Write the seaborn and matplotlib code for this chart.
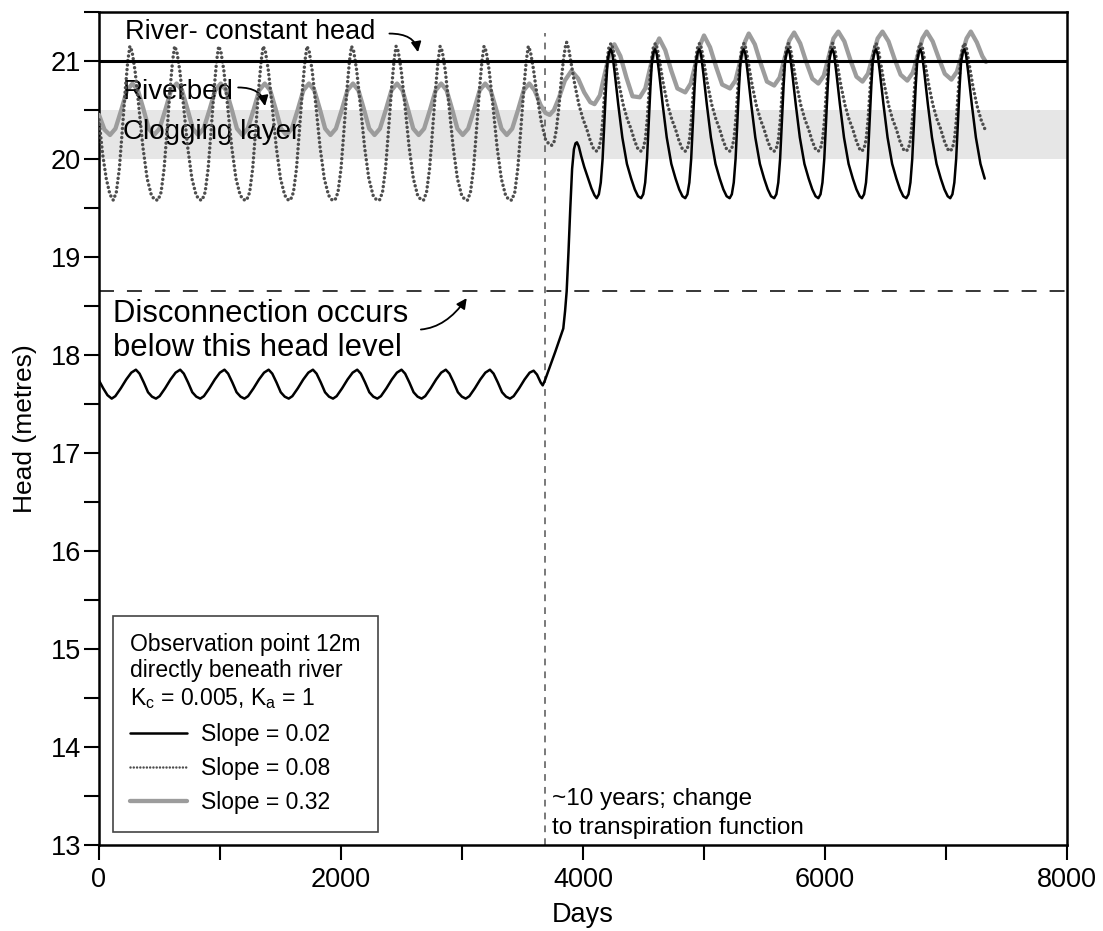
import matplotlib
matplotlib.use("Agg")
import matplotlib.pyplot as plt
import seaborn as sns
from matplotlib.lines import Line2D
from matplotlib.ticker import MultipleLocator

sns.set_style("ticks")
plt.rcParams['font.family'] = ['Liberation Sans', 'DejaVu Sans']
plt.rcParams['mathtext.default'] = 'regular'
for k in ['text.color', 'axes.labelcolor', 'xtick.color', 'ytick.color', 'axes.edgecolor']:
    plt.rcParams[k] = 'black'

# ---------------- data ----------------
river_head = 21.0
disconnect_head = 18.65
clog_bottom, clog_top = 20.0, 20.5
switch_day = 3686

# Slope = 0.02 (black)
black_days = [
    0, 35, 70,
    105, 135, 180, 225, 267, 305, 335, 370, 405, 438,
    471, 501, 546, 591, 633, 671, 701, 736, 771, 804,
    837, 867, 912, 957, 999, 1037, 1067, 1102, 1137, 1170,
    1202, 1232, 1277, 1322, 1364, 1402, 1432, 1467, 1502, 1535,
    1568, 1598, 1643, 1688, 1730, 1768, 1798, 1833, 1868, 1901,
    1934, 1964, 2009, 2054, 2096, 2134, 2164, 2199, 2234, 2267,
    2300, 2330, 2375, 2420, 2462, 2500, 2530, 2565, 2600, 2633,
    2666, 2696, 2741, 2786, 2828, 2866, 2896, 2931, 2966, 2999,
    3031, 3061, 3106, 3151, 3193, 3231, 3261, 3296, 3331, 3364,
    3397, 3427, 3472, 3517, 3559, 3592,
    3620, 3650, 3667, 3685, 3720, 3770, 3837, 3852, 3865, 3880, 3895, 3910, 3925, 3938,
    3950, 3965, 3985, 4010, 4040, 4070, 4095,
    4113, 4131, 4147, 4162, 4177, 4191, 4203, 4217, 4229, 4243, 4262, 4291, 4325, 4363, 4398, 4428, 4455,
    4480, 4498, 4514, 4529, 4544, 4558, 4570, 4584, 4596, 4610, 4629, 4658, 4692, 4730, 4765, 4795, 4822,
    4845, 4863, 4879, 4894, 4909, 4923, 4935, 4949, 4961, 4975, 4994, 5023, 5057, 5095, 5130, 5160, 5187,
    5212, 5230, 5246, 5261, 5276, 5290, 5302, 5316, 5328, 5342, 5361, 5390, 5424, 5462, 5497, 5527, 5554,
    5580, 5598, 5614, 5629, 5644, 5658, 5670, 5684, 5696, 5710, 5729, 5758, 5792, 5830, 5865, 5895, 5922,
    5945, 5963, 5979, 5994, 6009, 6023, 6035, 6049, 6061, 6075, 6094, 6123, 6157, 6195, 6230, 6260, 6287,
    6305, 6323, 6339, 6354, 6369, 6383, 6395, 6409, 6421, 6435, 6454, 6483, 6517, 6555, 6590, 6620, 6647,
    6672, 6690, 6706, 6721, 6736, 6750, 6762, 6776, 6788, 6802, 6821, 6850, 6884, 6922, 6957, 6987, 7014,
    7035, 7053, 7069, 7084, 7099, 7113, 7125, 7139, 7151, 7165, 7184, 7213, 7247, 7285, 7320,
]
black_head = [
    17.74, 17.66, 17.59,
    17.555, 17.58, 17.66, 17.75, 17.82, 17.85, 17.81, 17.72, 17.62, 17.575,
    17.555, 17.58, 17.66, 17.75, 17.82, 17.85, 17.81, 17.72, 17.62, 17.575,
    17.555, 17.58, 17.66, 17.75, 17.82, 17.85, 17.81, 17.72, 17.62, 17.575,
    17.555, 17.58, 17.66, 17.75, 17.82, 17.85, 17.81, 17.72, 17.62, 17.575,
    17.555, 17.58, 17.66, 17.75, 17.82, 17.85, 17.81, 17.72, 17.62, 17.575,
    17.555, 17.58, 17.66, 17.75, 17.82, 17.85, 17.81, 17.72, 17.62, 17.575,
    17.555, 17.58, 17.66, 17.75, 17.82, 17.85, 17.81, 17.72, 17.62, 17.575,
    17.555, 17.58, 17.66, 17.75, 17.82, 17.85, 17.81, 17.72, 17.62, 17.575,
    17.555, 17.58, 17.66, 17.75, 17.82, 17.85, 17.81, 17.72, 17.62, 17.575,
    17.555, 17.58, 17.66, 17.75, 17.82, 17.84,
    17.80, 17.72, 17.69, 17.74, 17.86, 18.03, 18.27, 18.45, 18.65, 19.05, 19.50, 19.90, 20.10, 20.16,
    20.17, 20.13, 20.03, 19.92, 19.81, 19.70, 19.63,
    19.60, 19.64, 19.76, 20.00, 20.40, 20.75, 21.00, 21.09, 21.12, 21.07, 20.88, 20.56, 20.22, 19.95, 19.80, 19.69, 19.62,
    19.60, 19.64, 19.76, 20.00, 20.40, 20.75, 21.00, 21.09, 21.12, 21.07, 20.88, 20.56, 20.22, 19.95, 19.80, 19.69, 19.62,
    19.60, 19.64, 19.76, 20.00, 20.40, 20.75, 21.00, 21.09, 21.12, 21.07, 20.88, 20.56, 20.22, 19.95, 19.80, 19.69, 19.62,
    19.60, 19.64, 19.76, 20.00, 20.40, 20.75, 21.00, 21.09, 21.12, 21.07, 20.88, 20.56, 20.22, 19.95, 19.80, 19.69, 19.62,
    19.60, 19.64, 19.76, 20.00, 20.40, 20.75, 21.00, 21.09, 21.12, 21.07, 20.88, 20.56, 20.22, 19.95, 19.80, 19.69, 19.62,
    19.60, 19.64, 19.76, 20.00, 20.40, 20.75, 21.00, 21.09, 21.12, 21.07, 20.88, 20.56, 20.22, 19.95, 19.80, 19.69, 19.62,
    19.60, 19.64, 19.76, 20.00, 20.40, 20.75, 21.00, 21.09, 21.12, 21.07, 20.88, 20.56, 20.22, 19.95, 19.80, 19.69, 19.62,
    19.60, 19.64, 19.76, 20.00, 20.40, 20.75, 21.00, 21.09, 21.12, 21.07, 20.88, 20.56, 20.22, 19.95, 19.80, 19.69, 19.62,
    19.60, 19.64, 19.76, 20.00, 20.40, 20.75, 21.00, 21.09, 21.12, 21.07, 20.88, 20.56, 20.22, 19.95, 19.80,
]

# Slope = 0.08 (dotted)
dot_days = [
    0, 30, 60, 90,
    118, 143, 168, 193, 218, 238, 255, 273, 298, 328, 363, 398, 433, 460,
    488, 513, 538, 563, 588, 608, 625, 643, 668, 698, 733, 768, 803, 830,
    852, 877, 902, 927, 952, 972, 989, 1007, 1032, 1062, 1097, 1132, 1167, 1194,
    1220, 1245, 1270, 1295, 1320, 1340, 1357, 1375, 1400, 1430, 1465, 1500, 1535, 1562,
    1582, 1607, 1632, 1657, 1682, 1702, 1719, 1737, 1762, 1792, 1827, 1862, 1897, 1924,
    1950, 1975, 2000, 2025, 2050, 2070, 2087, 2105, 2130, 2160, 2195, 2230, 2265, 2292,
    2318, 2343, 2368, 2393, 2418, 2438, 2455, 2473, 2498, 2528, 2563, 2598, 2633, 2660,
    2682, 2707, 2732, 2757, 2782, 2802, 2819, 2837, 2862, 2892, 2927, 2962, 2997, 3024,
    3045, 3070, 3095, 3120, 3145, 3165, 3182, 3200, 3225, 3255, 3290, 3325, 3360, 3387,
    3411, 3436, 3461, 3486, 3511, 3531, 3548,
    3565, 3590, 3620, 3655, 3690, 3720, 3741, 3760, 3780, 3800, 3820, 3840, 3855, 3865,
    3881, 3902, 3932, 3967, 4002, 4030, 4062, 4089,
    4113, 4131, 4148, 4165, 4181, 4197, 4213, 4231, 4247, 4268, 4298, 4333, 4368, 4396, 4428, 4455,
    4480, 4498, 4515, 4532, 4548, 4564, 4580, 4598, 4614, 4635, 4665, 4700, 4735, 4763, 4795, 4822,
    4845, 4863, 4880, 4897, 4913, 4929, 4945, 4963, 4979, 5000, 5030, 5065, 5100, 5128, 5160, 5187,
    5212, 5230, 5247, 5264, 5280, 5296, 5312, 5330, 5346, 5367, 5397, 5432, 5467, 5495, 5527, 5554,
    5580, 5598, 5615, 5632, 5648, 5664, 5680, 5698, 5714, 5735, 5765, 5800, 5835, 5863, 5895, 5922,
    5945, 5963, 5980, 5997, 6013, 6029, 6045, 6063, 6079, 6100, 6130, 6165, 6200, 6228, 6260, 6287,
    6305, 6323, 6340, 6357, 6373, 6389, 6405, 6423, 6439, 6460, 6490, 6525, 6560, 6588, 6620, 6647,
    6672, 6690, 6707, 6724, 6740, 6756, 6772, 6790, 6806, 6827, 6857, 6892, 6927, 6955, 6987, 7014,
    7035, 7053, 7070, 7087, 7103, 7119, 7135, 7153, 7169, 7190, 7220, 7255, 7290, 7320,
]
dot_head = [
    20.40, 20.05, 19.80, 19.64,
    19.58, 19.66, 19.90, 20.30, 20.72, 21.00, 21.15, 21.10, 20.90, 20.55, 20.12, 19.80, 19.63, 19.585,
    19.58, 19.66, 19.90, 20.30, 20.72, 21.00, 21.15, 21.10, 20.90, 20.55, 20.12, 19.80, 19.63, 19.585,
    19.58, 19.66, 19.90, 20.30, 20.72, 21.00, 21.15, 21.10, 20.90, 20.55, 20.12, 19.80, 19.63, 19.585,
    19.58, 19.66, 19.90, 20.30, 20.72, 21.00, 21.15, 21.10, 20.90, 20.55, 20.12, 19.80, 19.63, 19.585,
    19.58, 19.66, 19.90, 20.30, 20.72, 21.00, 21.15, 21.10, 20.90, 20.55, 20.12, 19.80, 19.63, 19.585,
    19.58, 19.66, 19.90, 20.30, 20.72, 21.00, 21.15, 21.10, 20.90, 20.55, 20.12, 19.80, 19.63, 19.585,
    19.58, 19.66, 19.90, 20.30, 20.72, 21.00, 21.15, 21.10, 20.90, 20.55, 20.12, 19.80, 19.63, 19.585,
    19.58, 19.66, 19.90, 20.30, 20.72, 21.00, 21.15, 21.10, 20.90, 20.55, 20.12, 19.80, 19.63, 19.585,
    19.58, 19.66, 19.90, 20.30, 20.72, 21.00, 21.15, 21.10, 20.90, 20.55, 20.12, 19.80, 19.63, 19.585,
    19.58, 19.66, 19.90, 20.30, 20.72, 21.00, 21.15,
    21.10, 20.92, 20.65, 20.38, 20.20, 20.15, 20.14, 20.17, 20.30, 20.52, 20.80, 21.03, 21.15, 21.19,
    21.13, 20.98, 20.76, 20.55, 20.40, 20.31, 20.18, 20.10,
    20.08, 20.11, 20.20, 20.42, 20.72, 20.98, 21.13, 21.18, 21.13, 20.98, 20.76, 20.55, 20.40, 20.31, 20.18, 20.10,
    20.08, 20.11, 20.20, 20.42, 20.72, 20.98, 21.13, 21.18, 21.13, 20.98, 20.76, 20.55, 20.40, 20.31, 20.18, 20.10,
    20.08, 20.11, 20.20, 20.42, 20.72, 20.98, 21.13, 21.18, 21.13, 20.98, 20.76, 20.55, 20.40, 20.31, 20.18, 20.10,
    20.08, 20.11, 20.20, 20.42, 20.72, 20.98, 21.13, 21.18, 21.13, 20.98, 20.76, 20.55, 20.40, 20.31, 20.18, 20.10,
    20.08, 20.11, 20.20, 20.42, 20.72, 20.98, 21.13, 21.18, 21.13, 20.98, 20.76, 20.55, 20.40, 20.31, 20.18, 20.10,
    20.08, 20.11, 20.20, 20.42, 20.72, 20.98, 21.13, 21.18, 21.13, 20.98, 20.76, 20.55, 20.40, 20.31, 20.18, 20.10,
    20.08, 20.11, 20.20, 20.42, 20.72, 20.98, 21.13, 21.18, 21.13, 20.98, 20.76, 20.55, 20.40, 20.31, 20.18, 20.10,
    20.08, 20.11, 20.20, 20.42, 20.72, 20.98, 21.13, 21.18, 21.13, 20.98, 20.76, 20.55, 20.40, 20.31, 20.18, 20.10,
    20.08, 20.11, 20.20, 20.42, 20.72, 20.98, 21.13, 21.18, 21.13, 20.98, 20.76, 20.55, 20.40, 20.31,
]

# Slope = 0.32 (grey)
gray_days = [
    0, 45,
    91, 136, 184, 231, 277, 322, 367, 411,
    455, 500, 548, 595, 641, 686, 731, 775,
    820, 865, 913, 960, 1006, 1051, 1096, 1140,
    1184, 1229, 1277, 1324, 1370, 1415, 1460, 1504,
    1549, 1594, 1642, 1689, 1735, 1780, 1825, 1869,
    1913, 1958, 2006, 2053, 2099, 2144, 2189, 2233,
    2277, 2322, 2370, 2417, 2463, 2508, 2553, 2597,
    2642, 2687, 2735, 2782, 2828, 2873, 2918, 2962,
    3006, 3051, 3099, 3146, 3192, 3237, 3282, 3326,
    3370, 3415, 3463, 3510, 3556,
    3600, 3650, 3690, 3725, 3760, 3800, 3850, 3905, 3960, 4010, 4060,
    4095, 4140, 4180, 4220, 4259, 4309, 4359, 4409,
    4470, 4515, 4555, 4595, 4630, 4680, 4730, 4780,
    4845, 4890, 4930, 4970, 5000, 5050, 5100, 5150,
    5215, 5260, 5300, 5340, 5370, 5420, 5470, 5520,
    5580, 5625, 5665, 5705, 5745, 5795, 5845, 5895,
    5945, 5990, 6030, 6070, 6110, 6160, 6210, 6260,
    6310, 6355, 6395, 6435, 6475, 6525, 6575, 6625,
    6680, 6725, 6765, 6805, 6840, 6890, 6940, 6990,
    7045, 7090, 7130, 7170, 7205, 7255, 7300, 7330,
]
gray_head = [
    20.45, 20.30,
    20.245, 20.31, 20.50, 20.70, 20.77, 20.70, 20.51, 20.31,
    20.245, 20.31, 20.50, 20.70, 20.77, 20.70, 20.51, 20.31,
    20.245, 20.31, 20.50, 20.70, 20.77, 20.70, 20.51, 20.31,
    20.245, 20.31, 20.50, 20.70, 20.77, 20.70, 20.51, 20.31,
    20.245, 20.31, 20.50, 20.70, 20.77, 20.70, 20.51, 20.31,
    20.245, 20.31, 20.50, 20.70, 20.77, 20.70, 20.51, 20.31,
    20.245, 20.31, 20.50, 20.70, 20.77, 20.70, 20.51, 20.31,
    20.245, 20.31, 20.50, 20.70, 20.77, 20.70, 20.51, 20.31,
    20.245, 20.31, 20.50, 20.70, 20.77, 20.70, 20.51, 20.31,
    20.245, 20.31, 20.50, 20.70, 20.77,
    20.70, 20.55, 20.47, 20.45, 20.50, 20.62, 20.80, 20.90, 20.82, 20.68, 20.58,
    20.56, 20.65, 20.87, 21.08, 21.17, 21.05, 20.83, 20.64,
    20.63, 20.72, 20.93, 21.14, 21.23, 21.11, 20.90, 20.72,
    20.68, 20.77, 20.97, 21.17, 21.26, 21.14, 20.94, 20.76,
    20.72, 20.80, 21.00, 21.20, 21.28, 21.17, 20.97, 20.79,
    20.75, 20.83, 21.02, 21.21, 21.29, 21.18, 20.99, 20.82,
    20.77, 20.85, 21.04, 21.23, 21.30, 21.20, 21.01, 20.84,
    20.79, 20.87, 21.05, 21.23, 21.30, 21.20, 21.02, 20.86,
    20.80, 20.88, 21.05, 21.23, 21.30, 21.20, 21.03, 20.87,
    20.81, 20.89, 21.06, 21.23, 21.30, 21.19, 21.05, 20.99,
]

series_labels = ["Slope = 0.02", "Slope = 0.08", "Slope = 0.32"]
x_major = [0, 2000, 4000, 6000, 8000]
y_major = [13, 14, 15, 16, 17, 18, 19, 20, 21]

# ---------------- figure ----------------
fig = plt.figure(figsize=(11.03, 9.31), dpi=100)
ax = fig.add_axes([99 / 1103, 86 / 931, 968 / 1103, 833 / 931])
ax.set_xlim(0, 8000)
ax.set_ylim(13, 21.5)

ax.axhspan(clog_bottom, clog_top, color="#e6e6e6", lw=0, zorder=0)
ax.axhline(river_head, color="black", lw=2.2, zorder=5)
ax.axhline(disconnect_head, color="black", lw=1.1, dashes=(9.8, 8.5), zorder=2)
ax.axvline(switch_day, ymin=0, ymax=(21.29 - 13) / 8.5, color="#555555",
           lw=1.1, dashes=(4.4, 4.0), zorder=2)

grey_c = "#9c9c9c"
dot_c = "#4d4d4d"
sns.lineplot(x=gray_days, y=gray_head, ax=ax, color=grey_c, lw=3.1,
             sort=False, estimator=None, legend=False, zorder=3)
sns.lineplot(x=dot_days, y=dot_head, ax=ax, color=dot_c, lw=2.5,
             linestyle=(0, (0.01, 1.3)), dash_capstyle="round",
             sort=False, estimator=None, legend=False, zorder=3.5)
sns.lineplot(x=black_days, y=black_head, ax=ax, color="black", lw=1.8,
             sort=False, estimator=None, legend=False, zorder=4)

# axes styling
for sp in ax.spines.values():
    sp.set_visible(True)
    sp.set_linewidth(1.8)
    sp.set_color("black")
ax.set_xticks(x_major)
ax.set_yticks(y_major)
ax.xaxis.set_minor_locator(MultipleLocator(1000))
ax.yaxis.set_minor_locator(MultipleLocator(0.5))
ax.tick_params(which="both", direction="out", length=11, width=1.5,
               top=False, right=False, colors="black")
ax.tick_params(axis="both", which="major", labelsize=19.5)
ax.tick_params(axis="x", pad=5)
ax.tick_params(axis="y", pad=2)

ax.set_xlabel("Days", fontsize=19.5)
ax.set_ylabel("Head (metres)", fontsize=19)
ax.xaxis.label.set_va("center")
ax.yaxis.label.set_va("center")
ax.xaxis.set_label_coords(0.5, -0.084)
ax.yaxis.set_label_coords(-0.0764, 0.5)

# annotations
ax.text(215, 21.30, "River- constant head", fontsize=19.5, va="center", ha="left")
ax.text(198, 20.68, "Riverbed", fontsize=20, va="center", ha="left")
ax.text(198, 20.28, "Clogging layer", fontsize=20, va="center", ha="left")
ax.text(118, 18.42, "Disconnection occurs", fontsize=22.3, va="center", ha="left")
ax.text(118, 18.07, "below this head level", fontsize=22.3, va="center", ha="left")
ax.text(3741, 13.47, "~10 years; change", fontsize=17.5, va="center", ha="left")
ax.text(3741, 13.17, "to transpiration function", fontsize=17.5, va="center", ha="left")

arrow_kw = dict(arrowstyle="-|>", color="black", lw=1.3, mutation_scale=15,
                shrinkA=0, shrinkB=0)
ax.annotate("", xy=(2636, 21.09), xytext=(2400, 21.28),
            arrowprops=dict(connectionstyle="angle3,angleA=0,angleB=-80", **arrow_kw))
ax.annotate("", xy=(1372, 20.54), xytext=(1150, 20.73),
            arrowprops=dict(connectionstyle="angle3,angleA=0,angleB=-80", **arrow_kw))
ax.annotate("", xy=(3039, 18.58), xytext=(2660, 18.26),
            arrowprops=dict(connectionstyle="angle3,angleA=5,angleB=55", **arrow_kw))

# legend
handles = [
    Line2D([], [], color="black", lw=1.8),
    Line2D([], [], color=dot_c, lw=1.8, linestyle=(0, (0.01, 1.3)), dash_capstyle="round"),
    Line2D([], [], color=grey_c, lw=3.1),
]
leg = ax.legend(handles, series_labels,
                title="Observation point 12m\ndirectly beneath river\nK$_c$ = 0.005, K$_a$ = 1",
                loc="lower left", bbox_to_anchor=(0.0142, 0.016), borderaxespad=0,
                fontsize=16.5, title_fontsize=16.5, alignment="left", frameon=True,
                fancybox=False, edgecolor="#444444", framealpha=1,
                handlelength=2.5, handletextpad=0.6, labelspacing=0.5, borderpad=0.75)
leg.get_frame().set_linewidth(1.2)
leg.set_zorder(10)

fig.savefig("out.png", dpi=100)
